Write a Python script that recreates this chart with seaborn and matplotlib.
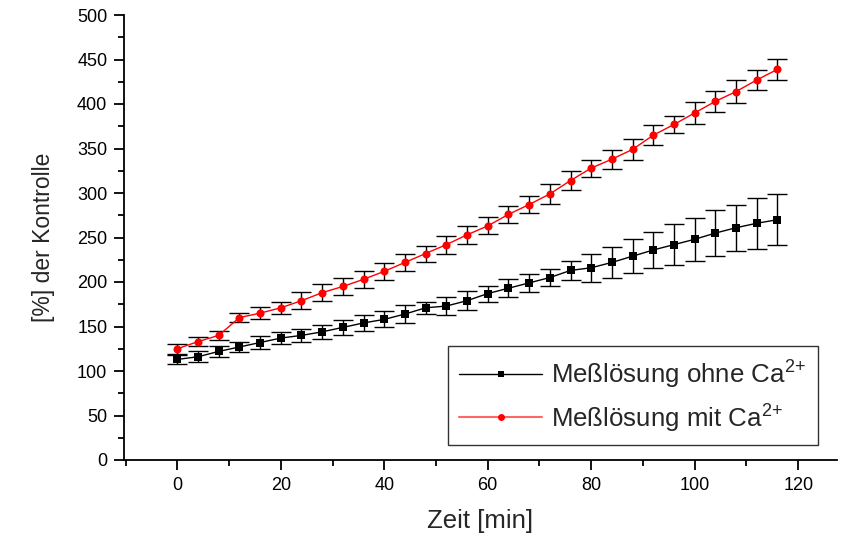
import numpy as np
import pandas as pd
import matplotlib
matplotlib.use("Agg")
import matplotlib.pyplot as plt
import seaborn as sns
from matplotlib.lines import Line2D
from matplotlib.ticker import MultipleLocator

# ---- data ----
zeit = [0, 4, 8, 12, 16, 20, 24, 28, 32, 36, 40, 44, 48, 52, 56,
        60, 64, 68, 72, 76, 80, 84, 88, 92, 96, 100, 104, 108, 112, 116]
ohne_ca = [113, 116, 122, 127, 132, 137, 140, 144, 149, 154, 158, 164, 171, 173, 179,
           187, 193, 199, 205, 213, 216, 222, 229, 236, 242, 248, 255, 261, 266, 270]
ohne_ca_err = [5, 6, 6.5, 6, 7, 7, 7.5, 7.5, 8, 9, 9, 10, 6.5, 10, 11,
               9, 10, 10, 10, 11, 15.5, 17, 19, 20, 23, 24, 26, 26, 28.5, 28.5]
mit_ca = [125, 133, 140, 160, 165, 171, 179, 188, 195, 203, 212, 222, 232, 242, 253,
          263, 276, 287, 299, 314, 328, 338, 349, 365, 377, 390, 403, 414, 427, 439]
mit_ca_err = [5.5, 5, 5, 5, 6.5, 7, 9.5, 9.5, 10, 9.5, 9.5, 9.5, 9, 10, 10,
              9.5, 9.5, 9.5, 11, 11, 9.5, 10.5, 12, 11, 9.5, 12, 11.5, 13, 11.5, 12]

label_ohne = r'Meßlösung ohne Ca$^{\mathregular{2{+}}}$'
label_mit = r'Meßlösung mit Ca$^{\mathregular{2{+}}}$'
x_label = 'Zeit [min]'
y_label = '[%] der Kontrolle'

sns.set_style("ticks")
plt.rcParams['font.family'] = ['Liberation Sans', 'DejaVu Sans']
plt.rcParams['mathtext.fontset'] = 'custom'
plt.rcParams['mathtext.rm'] = 'Liberation Sans'

df = pd.DataFrame({
    'zeit': zeit * 2,
    'wert': ohne_ca + mit_ca,
    'serie': [label_ohne] * len(zeit) + [label_mit] * len(zeit),
})

fig = plt.figure(figsize=(8.41, 5.37), dpi=100)
ax = fig.add_axes([124 / 841, 1 - 460 / 537, (837 - 124) / 841, (460 - 15) / 537])

# error bars
ax.errorbar(zeit, ohne_ca, yerr=ohne_ca_err, fmt='none', ecolor='black',
            elinewidth=1.0, capsize=7, capthick=1.0, zorder=2)
ax.errorbar(zeit, mit_ca, yerr=mit_ca_err, fmt='none', ecolor='black',
            elinewidth=1.0, capsize=7, capthick=1.0, zorder=2)

sns.lineplot(data=df[df.serie == label_ohne], x='zeit', y='wert', ax=ax,
             color='black', marker='s', markersize=5.5, markeredgewidth=0,
             linewidth=1.0, legend=False, zorder=3)
sns.lineplot(data=df[df.serie == label_mit], x='zeit', y='wert', ax=ax,
             color='red', marker='o', markersize=5.8, markeredgewidth=0,
             linewidth=1.0, legend=False, zorder=3)

ax.set_xlim(-10.3, 127.5)
ax.set_ylim(0, 500)
ax.xaxis.set_major_locator(MultipleLocator(20))
ax.xaxis.set_minor_locator(MultipleLocator(10))
ax.yaxis.set_major_locator(MultipleLocator(50))
ax.yaxis.set_minor_locator(MultipleLocator(25))

for s in ['top', 'right']:
    ax.spines[s].set_visible(False)
for s in ['left', 'bottom']:
    ax.spines[s].set_linewidth(1.3)
    ax.spines[s].set_color('black')

ax.tick_params(axis='both', which='major', direction='out', length=7, width=1.3,
               color='black', labelsize=13, labelcolor='black', pad=5)
ax.tick_params(axis='both', which='minor', direction='out', length=4, width=1.3,
               color='black')

ax.set_xlabel(x_label, fontsize=18.5, labelpad=11)
ax.set_ylabel(y_label, fontsize=16.5, labelpad=16)

handles = [
    Line2D([], [], color='black', marker='s', markersize=5, markeredgewidth=0, linewidth=1.0),
    Line2D([], [], color='#ff6666', marker='o', markersize=5, markeredgewidth=0,
           markerfacecolor='red', linewidth=1.5),
]
leg = ax.legend(handles, [label_ohne, label_mit], loc='lower right',
                bbox_to_anchor=(0.973, 0.034), fontsize=18.6, frameon=True,
                fancybox=False, edgecolor='black', handlelength=3.2,
                handletextpad=0.36, borderpad=0.44, labelspacing=0.4,
                borderaxespad=0)
leg.get_frame().set_linewidth(1.0)

fig.savefig('out.png', dpi=100)
